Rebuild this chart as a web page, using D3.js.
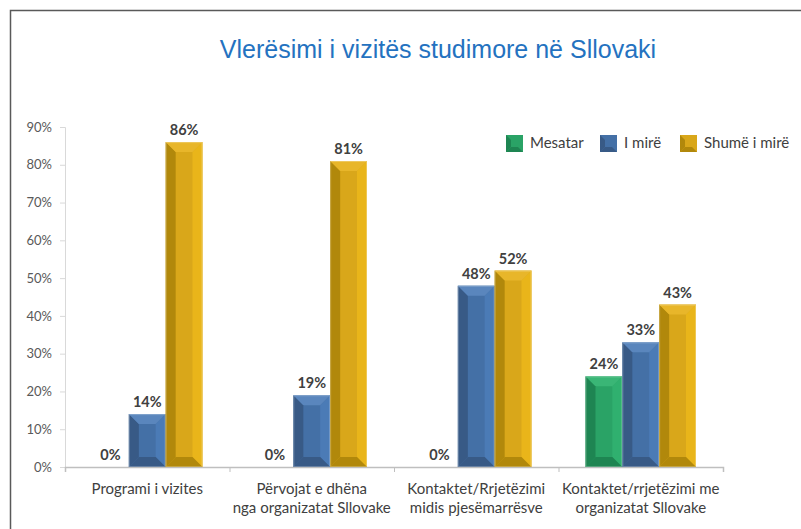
<!DOCTYPE html>
<html>
<head>
<meta charset="utf-8">
<script src="https://d3js.org/d3.v7.min.js"></script>
<style>
body { margin: 0; background: #fff; }
svg text { font-family: Lato, "Noto Sans", sans-serif; }
</style>
</head>
<body>
<svg id="chart" width="801" height="529"></svg>
<script>
// data
const categories = [
  ["Programi i vizites"],
  ["Përvojat e dhëna", "nga organizatat Sllovake"],
  ["Kontaktet/Rrjetëzimi", "midis pjesëmarrësve"],
  ["Kontaktet/rrjetëzimi me", "organizatat Sllovake"]
];
const seriesNames = ["Mesatar", "I mirë", "Shumë i mirë"];
const mesatar = [0, 0, 0, 24];
const iMire = [14, 19, 48, 33];
const shumeIMire = [86, 81, 52, 43];
const yTicks = [0, 10, 20, 30, 40, 50, 60, 70, 80, 90];

// face colours: [left, centre, right, top, bottom]
const palette = [
  ["#1e8552", "#2aa366", "#30b06f", "#3ab676", "#1e8552"],
  ["#385a86", "#4470a6", "#4b7bb6", "#5a86bd", "#385a86"],
  ["#b1880b", "#d9a71a", "#e9b51a", "#e8b62a", "#b1880b"]
];

const svg = d3.select("#chart");
const plotL = 65, plotR = 723, plotT = 127, plotB = 467;

// outer frame
svg.append("path")
  .attr("d", "M10.5,529 L10.5,10.5 L801,10.5")
  .attr("fill", "none").attr("stroke", "#595959").attr("stroke-width", 1.5);

svg.append("text")
  .attr("x", 438).attr("y", 58)
  .attr("text-anchor", "middle")
  .style("font-family", "'Liberation Sans', Arial, sans-serif")
  .style("font-size", "25px")
  .attr("fill", "#2472c0")
  .text("Vlerësimi i vizitës studimore në Sllovaki");

const x = d3.scaleBand().domain(d3.range(categories.length)).range([plotL, plotR]);
const xs = d3.scaleBand().domain(d3.range(3)).range([27, x.bandwidth() - 27]);
const y = d3.scaleLinear().domain([0, 90]).range([plotB, plotT]);

// y axis
const yAxis = svg.append("g").attr("transform", `translate(${plotL},0)`)
  .call(d3.axisLeft(y).tickValues(yTicks).tickSize(5).tickPadding(8).tickFormat(d => d + "%"));
yAxis.select(".domain").attr("stroke", "#d9d9d9");
yAxis.selectAll(".tick line").attr("stroke", "#d9d9d9");
yAxis.selectAll("text").attr("fill", "#595959").style("font-size", "13px");

// x axis
const xAxis = svg.append("g").attr("transform", `translate(0,${plotB})`)
  .call(d3.axisBottom(d3.scaleLinear().domain([0, 4]).range([plotL, plotR]))
    .tickValues([0, 1, 2, 3, 4]).tickSize(5).tickFormat(""));
xAxis.select(".domain").attr("stroke", "#bfbfbf").attr("stroke-width", 1.5);
xAxis.selectAll(".tick line").attr("stroke", "#bfbfbf");

categories.forEach((lines, i) => {
  const t = svg.append("text")
    .attr("x", x(i) + x.bandwidth() / 2).attr("y", 494)
    .attr("text-anchor", "middle").attr("fill", "#404040")
    .style("font-size", "15px");
  lines.forEach((l, j) => t.append("tspan")
    .attr("x", x(i) + x.bandwidth() / 2).attr("dy", j ? 19 : 0).text(l));
});

const series = [mesatar, iMire, shumeIMire];
const bev = 10;

series.forEach((vals, s) => {
  const c = palette[s];
  vals.forEach((v, i) => {
    const x0 = x(i) + xs(s), w = xs.bandwidth();
    const y0 = y(v), y1 = y(0), h = y1 - y0;
    if (h > 0) {
      const b = Math.min(bev, h / 2, w / 2);
      const g = svg.append("g");
      g.append("rect").attr("x", x0).attr("y", y0).attr("width", w).attr("height", h).attr("fill", c[1]);
      g.append("path").attr("fill", c[0])
        .attr("d", `M${x0},${y0} L${x0 + b},${y0 + b} L${x0 + b},${y1 - b} L${x0},${y1} Z`);
      g.append("path").attr("fill", c[2])
        .attr("d", `M${x0 + w},${y0} L${x0 + w - b},${y0 + b} L${x0 + w - b},${y1 - b} L${x0 + w},${y1} Z`);
      g.append("path").attr("fill", c[3])
        .attr("d", `M${x0},${y0} L${x0 + w},${y0} L${x0 + w - b},${y0 + b} L${x0 + b},${y0 + b} Z`);
      g.append("path").attr("fill", c[4])
        .attr("d", `M${x0},${y1} L${x0 + w},${y1} L${x0 + w - b},${y1 - b} L${x0 + b},${y1 - b} Z`);
      g.append("rect").attr("x", x0 + 0.5).attr("y", y0 + 0.5).attr("width", w - 1).attr("height", h - 1)
        .attr("fill", "none").attr("stroke", "rgba(255,255,255,0.25)");
    }
    svg.append("text")
      .attr("x", x0 + w / 2).attr("y", y0 - 7)
      .attr("text-anchor", "middle").attr("fill", "#404040")
      .style("font-size", "14.5px").style("font-weight", "bold")
      .text(v + "%");
  });
});

// legend
const legX = [506, 600, 680];
seriesNames.forEach((name, s) => {
  const c = palette[s], lx = legX[s], ly = 135, sz = 17, b = 5;
  const g = svg.append("g");
  g.append("rect").attr("x", lx).attr("y", ly).attr("width", sz).attr("height", sz).attr("fill", c[1]);
  g.append("path").attr("fill", c[0]).attr("d", `M${lx},${ly} L${lx + b},${ly + b} L${lx + b},${ly + sz - b} L${lx},${ly + sz} Z`);
  g.append("path").attr("fill", c[4]).attr("d", `M${lx},${ly + sz} L${lx + sz},${ly + sz} L${lx + sz - b},${ly + sz - b} L${lx + b},${ly + sz - b} Z`);
  svg.append("text").attr("x", lx + 24).attr("y", ly + 13)
    .attr("fill", "#404040").style("font-size", "15px").text(name);
});
</script>
</body>
</html>
